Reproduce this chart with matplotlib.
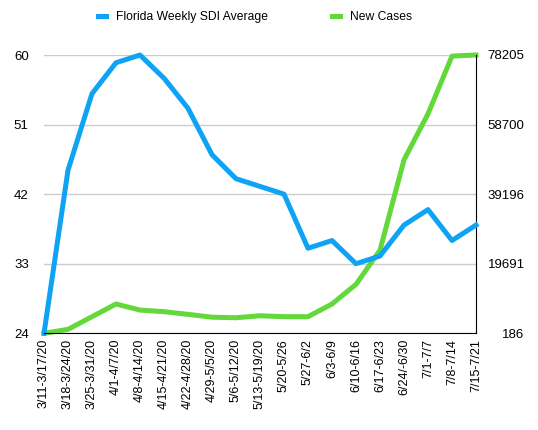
import matplotlib.pyplot as plt

plt.rcParams['font.family'] = ['Liberation Sans', 'DejaVu Sans']

weeks = ['3/11-3/17/20', '3/18-3/24/20', '3/25-3/31/20', '4/1-4/7/20', '4/8-4/14/20',
         '4/15-4/21/20', '4/22-4/28/20', '4/29-5/5/20', '5/6-5/12/20', '5/13-5/19/20',
         '5/20-5/26', '5/27-6/2', '6/3-6/9', '6/10-6/16', '6/17-6/23', '6/24/-6/30',
         '7/1-7/7', '7/8-7/14', '7/15-7/21']
sdi = [24, 45.1, 55, 59, 60, 57, 53.1, 47.1, 44, 43, 42, 35, 36, 33, 34, 38, 40, 36, 38]
new_cases = [186, 1300, 4840, 8400, 6700, 6250, 5500, 4700, 4550, 5100, 4850, 4850,
             8400, 13900, 23500, 48800, 61700, 77900, 78205]
left_ticks = [24, 33, 42, 51, 60]
right_ticks = [186, 19691, 39196, 58700, 78205]

blue = '#0fa3f5'
green = '#63d83a'

fig = plt.figure(figsize=(5.38, 4.3), dpi=100)
ax = fig.add_axes([44 / 538, 1 - 333.3 / 430, 432 / 538, 278.3 / 430])
ax2 = ax.twinx()
ax.set_zorder(ax2.get_zorder() + 1)
ax.patch.set_visible(False)

x = list(range(len(weeks)))
ax2.plot(x, new_cases, color=green, lw=3.6, solid_joinstyle='round', clip_on=False,
         label='New Cases')
ax.plot(x, sdi, color=blue, lw=3.6, solid_joinstyle='round', clip_on=False,
        label='Florida Weekly SDI Average')

ax.set_xlim(0, len(weeks) - 1)
ax.set_ylim(24, 60)
ax2.set_ylim(186, 78205)
ax.set_yticks(left_ticks)
ax2.set_yticks(right_ticks)
ax2.set_yticklabels([str(v) for v in right_ticks])
ax.set_xticks(x)
ax.set_xticklabels(weeks, rotation=90)

ax2.grid(axis='y', color='#cccccc', lw=1)
for s in ['top', 'left']:
    ax.spines[s].set_visible(False)
    ax2.spines[s].set_visible(False)
ax.spines['right'].set_visible(False)
ax2.spines['bottom'].set_visible(False)
ax.spines['bottom'].set_color('black')
ax2.spines['right'].set_color('black')

ax.tick_params(axis='both', length=0, labelsize=9.5, colors='black')
ax.tick_params(axis='y', pad=11)
ax.tick_params(axis='x', pad=4, labelsize=9)
ax2.tick_params(axis='y', length=0, labelsize=9.5, pad=35)
for lab in ax2.get_yticklabels():
    lab.set_ha('right')

h1, l1 = ax.get_legend_handles_labels()
h2, l2 = ax2.get_legend_handles_labels()
fig.legend(h1 + h2, l1 + l2, loc='center', bbox_to_anchor=(0.5 - 14 / 538, 1 - 17 / 430),
           ncol=2, frameon=False, fontsize=8.7, handlelength=0.7, handletextpad=0.8,
           columnspacing=5.3)

fig.savefig('out.png', dpi=100)
